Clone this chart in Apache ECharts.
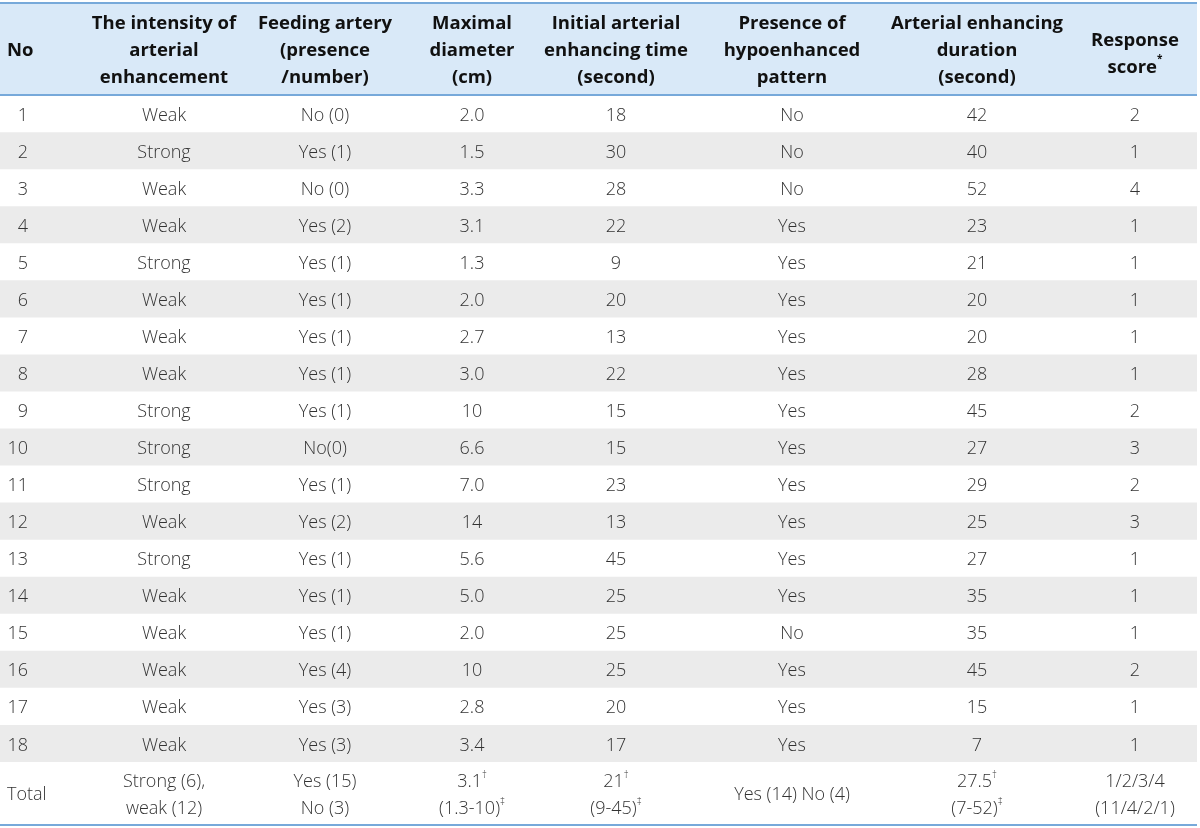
<!DOCTYPE html>
<html><head><meta charset="utf-8">
<script src="https://cdn.jsdelivr.net/npm/echarts@6/dist/echarts.min.js"></script>
<style>html,body{margin:0;padding:0;background:#fff}#c{width:1200px;height:828px}</style>
</head><body><div id="c"></div>
<script>
// ---- data ----
const headers = ['No', 'The intensity of\narterial\nenhancement', 'Feeding artery\n(presence\n/number)', 'Maximal\ndiameter\n(cm)', 'Initial arterial\nenhancing time\n(second)', 'Presence of\nhypoenhanced\npattern', 'Arterial enhancing\nduration\n(second)', '{hb|Response}\n{hb|score}{hsup|*}'];
const caseNo = ['1','2','3','4','5','6','7','8','9','10','11','12','13','14','15','16','17','18'];
const intensity = ['Weak','Strong','Weak','Weak','Strong','Weak','Weak','Weak','Strong','Strong','Strong','Weak','Strong','Weak','Weak','Weak','Weak','Weak'];
const feeding = ['No (0)','Yes (1)','No (0)','Yes (2)','Yes (1)','Yes (1)','Yes (1)','Yes (1)','Yes (1)','No(0)','Yes (1)','Yes (2)','Yes (1)','Yes (1)','Yes (1)','Yes (4)','Yes (3)','Yes (3)'];
const diameter = ['2.0','1.5','3.3','3.1','1.3','2.0','2.7','3.0','10','6.6','7.0','14','5.6','5.0','2.0','10','2.8','3.4'];
const initTime = ['18','30','28','22','9','20','13','22','15','15','23','13','45','25','25','25','20','17'];
const hypo = ['No','No','No','Yes','Yes','Yes','Yes','Yes','Yes','Yes','Yes','Yes','Yes','Yes','No','Yes','Yes','Yes'];
const duration = ['42','40','52','23','21','20','20','28','45','27','29','25','27','35','35','45','15','7'];
const score = ['2','1','4','1','1','1','1','1','2','3','2','3','1','1','1','2','1','1'];
const totalRow = ['Total', 'Strong (6),\nweak (12)', 'Yes (15)\nNo (3)', '{v|3.1}{s|†}\n{v|(1.3-10)}{s|‡}', '{v|21}{s|†}\n{v|(9-45)}{s|‡}', 'Yes (14) No (4)', '{v|27.5}{s|†}\n{v|(7-52)}{s|‡}', '1/2/3/4\n(11/4/2/1)'];

// ---- layout ----
const colCenters = [7, 164, 325, 472, 616, 792, 977, 1135];
const NO_RIGHT = 28;
const TABLE_W = 1197;
const HDR_U = 92 / 37;
const TOT_U = 64 / 37;
const N = caseNo.length;
const Y_MAX = HDR_U + N + TOT_U;
const FONT = '"Open Sans", "Noto Sans", sans-serif';
const BODY_COLOR = '#333333';
const LINE_COLOR = '#77a9da';

const bodyRows = caseNo.map((n, i) => [n, intensity[i], feeding[i], diameter[i], initTime[i], hypo[i], duration[i], score[i]]);
bodyRows.push(totalRow);

function textEl(api, col, y, txt, opts, alignOverride) {
  let xv = colCenters[col];
  let align = col === 0 ? 'left' : 'center';
  if (alignOverride === 'right') { xv = NO_RIGHT; align = 'right'; }
  const x = api.coord([xv, 0])[0];
  return {
    type: 'text',
    style: Object.assign({
      text: txt, x: x, y: y,
      align: align,
      verticalAlign: 'middle',
      fontFamily: FONT
    }, opts)
  };
}

const chart = echarts.init(document.getElementById('c'), null, {renderer: 'canvas'});
chart.setOption({
  animation: false,
  grid: {left: 0, top: 3, width: TABLE_W, height: 823},
  xAxis: {type: 'value', min: 0, max: TABLE_W, show: false},
  yAxis: {type: 'value', min: 0, max: Y_MAX, inverse: true, show: false},
  series: [
    {
      type: 'custom',
      coordinateSystem: 'cartesian2d',
      data: [[0]],
      renderItem: function (params, api) {
        const p0 = api.coord([0, 0]);
        const p1 = api.coord([TABLE_W, HDR_U]);
        const children = [
          {type: 'rect', shape: {x: p0[0], y: p0[1], width: p1[0] - p0[0], height: p1[1] - p0[1]}, style: {fill: '#d9e9f8'}},
          {type: 'line', shape: {x1: p0[0], y1: p0[1], x2: p1[0], y2: p0[1]}, style: {stroke: LINE_COLOR, lineWidth: 2}},
          {type: 'line', shape: {x1: p0[0], y1: p1[1], x2: p1[0], y2: p1[1]}, style: {stroke: LINE_COLOR, lineWidth: 2}}
        ];
        const yc = (p0[1] + p1[1]) / 2 + 2;
        headers.forEach((h, c) => {
          const isLast = c === headers.length - 1;
          children.push(textEl(api, c, isLast ? yc + 3 : yc, h, {
            fontSize: 18.5, fontWeight: 'bold', fill: '#111', lineHeight: 27,
            rich: {
              hb: {fontSize: 18.5, fontWeight: 'bold', fill: '#111', fontFamily: FONT, lineHeight: 27},
              hsup: {fontSize: 10, fontWeight: 'bold', fill: '#111', fontFamily: FONT, verticalAlign: 'top', lineHeight: 27, padding: [0, 0, 12, 0]}
            }
          }));
        });
        return {type: 'group', children: children};
      }
    },
    {
      type: 'custom',
      coordinateSystem: 'cartesian2d',
      data: bodyRows.map((r, i) => [i]),
      renderItem: function (params, api) {
        const i = api.value(0);
        const row = bodyRows[i];
        const isTotal = i === N;
        const yStart = HDR_U + i;
        const yEnd = isTotal ? yStart + TOT_U : yStart + 1;
        const p0 = api.coord([0, yStart]);
        const p1 = api.coord([TABLE_W, yEnd]);
        const children = [];
        if (i % 2 === 1) {
          children.push({type: 'rect', shape: {x: p0[0], y: p0[1], width: p1[0] - p0[0], height: p1[1] - p0[1]}, style: {fill: '#ebebeb'}});
        }
        if (isTotal) {
          children.push({type: 'line', shape: {x1: p0[0], y1: p1[1] - 1, x2: p1[0], y2: p1[1] - 1}, style: {stroke: LINE_COLOR, lineWidth: 2}});
        }
        const yc = (p0[1] + p1[1]) / 2 + (isTotal ? 1 : 2);
        row.forEach((t, c) => {
          children.push(textEl(api, c, yc, t, {
            fontSize: 18, fontWeight: 300, fill: BODY_COLOR, lineHeight: 27,
            rich: {
              v: {fontSize: 18, fontWeight: 300, fill: BODY_COLOR, fontFamily: FONT, lineHeight: 27},
              s: {fontSize: 10, fontWeight: 300, fill: BODY_COLOR, fontFamily: FONT, lineHeight: 27, padding: [0, 0, 12, 0]}
            }
          }, (c === 0 && !isTotal) ? 'right' : null));
        });
        return {type: 'group', children: children};
      }
    }
  ]
});
</script></body></html>
